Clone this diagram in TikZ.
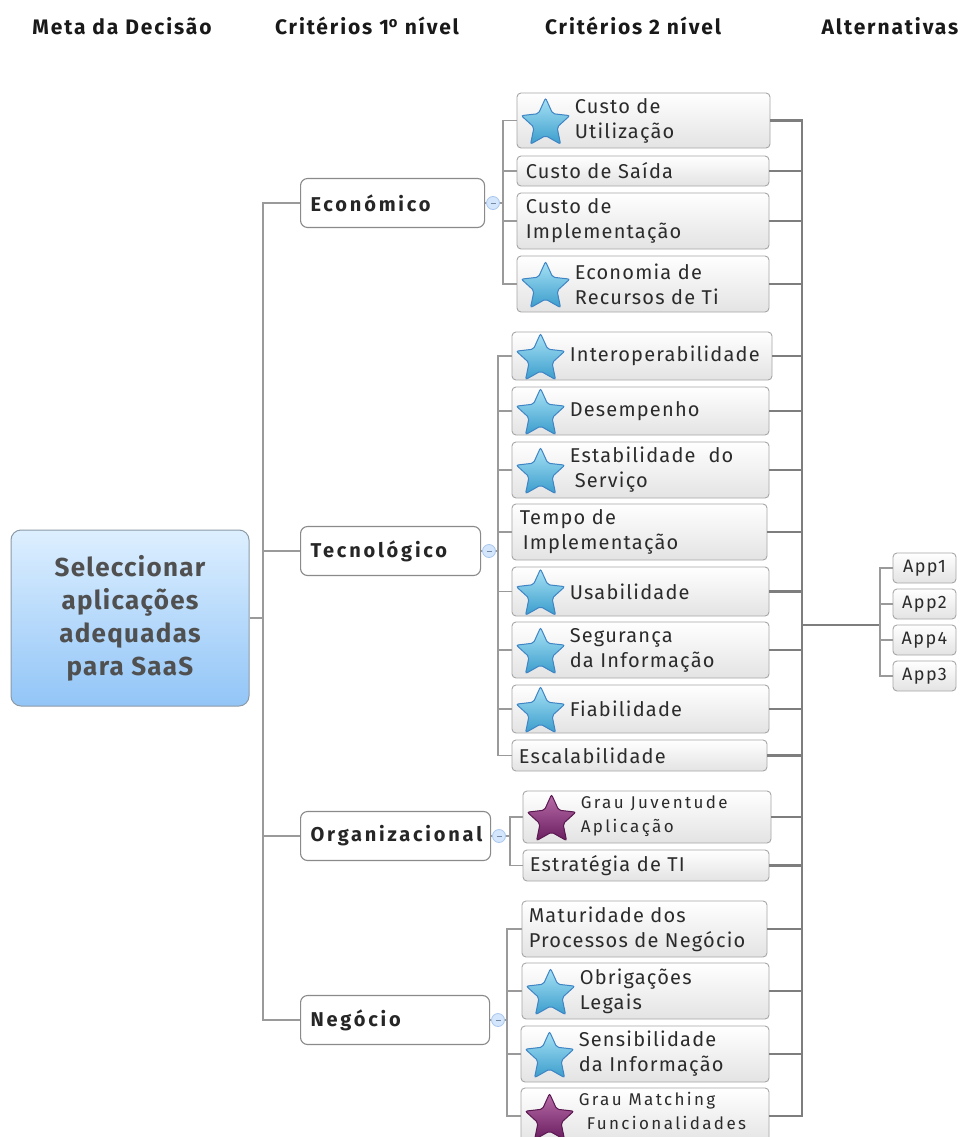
\documentclass[tikz,border=0pt]{standalone}
\usepackage{fontspec}
\setmainfont{Fira Sans}
\newfontfamily\critfont[LetterSpace=6]{Fira Sans}
\newfontfamily\smallcritfont[LetterSpace=14]{Fira Sans}
\newfontfamily\titlefont[LetterSpace=9]{Fira Sans}
\newfontfamily\groupfont[LetterSpace=14]{Fira Sans}
\newfontfamily\goalfont[LetterSpace=5]{Fira Sans}
\newfontfamily\appfont[LetterSpace=8]{Fira Sans}
\usetikzlibrary{shapes.geometric}

\definecolor{goaltop}{HTML}{DDEFFF}
\definecolor{goalbot}{HTML}{92C5F7}
\definecolor{goalline}{HTML}{8C9AA8}
\definecolor{goaltext}{HTML}{505050}
\definecolor{grpline}{HTML}{8A8A8A}
\definecolor{critline}{HTML}{A6A6A6}
\definecolor{critbot}{HTML}{E3E3E3}
\definecolor{crittxt}{HTML}{2B2B2B}
\definecolor{treeline}{HTML}{9A9A9A}
\definecolor{busline}{HTML}{7E7E7E}
\definecolor{togfill}{HTML}{D4E6FB}
\definecolor{togline}{HTML}{A9C7EE}
\definecolor{startop}{HTML}{A8E2F5}
\definecolor{starbot}{HTML}{3A9DCC}
\definecolor{starline}{HTML}{3F84C4}
\definecolor{purtop}{HTML}{B86CA8}
\definecolor{purbot}{HTML}{6A1D5F}
\definecolor{purline}{HTML}{5A1850}

\tikzset{
  colhead/.style={font=\titlefont\bfseries\fontsize{21}{25}\selectfont, text=black!90, inner sep=0pt},
  goal/.style={draw=goalline, line width=1pt, rounded corners=10pt,
    top color=goaltop, bottom color=goalbot, minimum width=238pt, minimum height=176pt,
    align=center, text=goaltext, font=\goalfont\bfseries\fontsize{26}{33}\selectfont},
  group/.style={draw=grpline, line width=1.1pt, rounded corners=7pt, fill=white,
    minimum height=49pt, inner xsep=10pt, anchor=west, align=left, text=black!85,
    font=\groupfont\bfseries\fontsize{20}{24}\selectfont},
  critbox/.style={draw=critline, line width=0.9pt, rounded corners=4pt,
    top color=white, bottom color=critbot, inner sep=0pt},
  crittext/.style={anchor=west, align=left, inner sep=0pt, text=crittxt,
    font=\critfont\fontsize{20}{25}\selectfont},
  smalltext/.style={crittext, font=\smallcritfont\fontsize{17}{24}\selectfont},
  appbox/.style={critbox, minimum width=63pt, minimum height=30pt,
    text=crittxt, font=\appfont\fontsize{18}{20}\selectfont},
  bluestar/.style={star, star points=5, star point ratio=2.1, minimum size=51pt,
    inner sep=0pt, rounded corners=2pt, draw=starline, line width=1pt,
    top color=startop, bottom color=starbot},
  purplestar/.style={bluestar, draw=purline, top color=purtop, bottom color=purbot},
  toggle/.style={circle, draw=togline, fill=togfill, minimum size=13pt, inner sep=0pt,
    line width=0.8pt,
    path picture={\draw[togline!70!black, line width=0.7pt]
      ([xshift=-2.5pt]path picture bounding box.center) --
      ([xshift=2.5pt]path picture bounding box.center);}},
  tree/.style={draw=treeline, line width=1.3pt},
  bus/.style={draw=busline, line width=2.5pt},
}

% criteria box given by its left, top, right and bottom edges
\newcommand\critnode[5]{%
  \pgfmathsetmacro\critW{#4-#2}%
  \pgfmathsetmacro\critH{#5-#3}%
  \node[critbox, minimum width=\critW pt, minimum height=\critH pt]
    (#1) at ({(#2+#4)/2},{(#3+#5)/2}) {};%
}

\begin{document}
\begin{tikzpicture}[x=1pt, y=-1pt]
\clip (0,0) rectangle (961,1137);
\fill[white] (0,0) rectangle (961,1137);

% column titles
\node[colhead] (h1) at (122,26) {Meta da Decisão};
\node[colhead] (h2) at (367,26) {Critérios 1\textsuperscript{o} nível};
\node[colhead] (h3) at (633,26) {Critérios 2 nível};
\node[colhead] (h4) at (890,26) {Alternativas};

% decision goal
\node[goal] (goal) at (130,618) {Seleccionar\\aplicações\\adequadas\\para SaaS};
\coordinate (trunk) at (263,618);

% first-level criteria
\node[group, text width=164pt] (eco) at (300,203) {Económico};
\node[group, text width=160pt] (tec) at (300,551) {Tecnológico};
\node[group, text width=170pt] (org) at (300,836) {Organizacional};
\node[group, text width=169pt] (neg) at (300,1020) {Negócio};

\node[toggle] (ecotog) at (493,203) {};
\node[toggle] (tectog) at (489,551) {};
\node[toggle] (orgtog) at (499,836) {};
\node[toggle] (negtog) at (498,1020) {};

\coordinate (ecobr) at (503,203);
\coordinate (tecbr) at (498,551);
\coordinate (orgbr) at (510,836);
\coordinate (negbr) at (507,1020);

% second-level criteria: Económico
\critnode{eco1}{517}{93}{770}{148}
\critnode{eco2}{517}{156}{769}{186}
\critnode{eco3}{517}{193}{769}{249}
\critnode{eco4}{517}{256}{769}{312}
\node[bluestar] (eco1s) at ([xshift=29pt,yshift=-3pt]eco1.west) {};
\node[crittext] (eco1t) at ([xshift=58pt]eco1.west) {Custo de\\Utilização};
\node[crittext] (eco2t) at ([xshift=9pt]eco2.west) {Custo de Saída};
\node[crittext] (eco3t) at ([xshift=9pt]eco3.west) {Custo de\\Implementação};
\node[bluestar] (eco4s) at ([xshift=29pt,yshift=-3pt]eco4.west) {};
\node[crittext] (eco4t) at ([xshift=58pt]eco4.west) {Economia de\\Recursos de Ti};

% second-level criteria: Tecnológico
\critnode{tec1}{512}{332}{772}{380}
\critnode{tec2}{512}{387}{769}{435}
\critnode{tec3}{512}{442}{769}{498}
\critnode{tec4}{512}{504}{767}{560}
\critnode{tec5}{512}{567}{769}{616}
\critnode{tec6}{512}{622}{769}{678}
\critnode{tec7}{512}{685}{769}{733}
\critnode{tec8}{512}{740}{767}{771}
\node[bluestar] (tec1s) at ([xshift=29pt,yshift=-3pt]tec1.west) {};
\node[crittext] (tec1t) at ([xshift=58pt]tec1.west) {Interoperabilidade};
\node[bluestar] (tec2s) at ([xshift=29pt,yshift=-3pt]tec2.west) {};
\node[crittext] (tec2t) at ([xshift=58pt]tec2.west) {Desempenho};
\node[bluestar] (tec3s) at ([xshift=29pt,yshift=-3pt]tec3.west) {};
\node[crittext] (tec3t) at ([xshift=58pt]tec3.west) {Estabilidade\ \ do\\\hspace*{5pt}Serviço};
\node[crittext] (tec4t) at ([xshift=8pt]tec4.west) {Tempo de\\\hspace*{3pt}Implementação};
\node[bluestar] (tec5s) at ([xshift=29pt,yshift=-3pt]tec5.west) {};
\node[crittext] (tec5t) at ([xshift=58pt]tec5.west) {Usabilidade};
\node[bluestar] (tec6s) at ([xshift=29pt,yshift=-3pt]tec6.west) {};
\node[crittext] (tec6t) at ([xshift=58pt]tec6.west) {Segurança\\da Informação};
\node[bluestar] (tec7s) at ([xshift=29pt,yshift=-3pt]tec7.west) {};
\node[crittext] (tec7t) at ([xshift=58pt]tec7.west) {Fiabilidade};
\node[crittext] (tec8t) at ([xshift=7pt]tec8.west) {Escalabilidade};

% second-level criteria: Organizacional
\critnode{org1}{523}{791}{771}{843}
\critnode{org2}{523}{850}{769}{881}
\node[purplestar] (org1s) at ([xshift=29pt,yshift=-3pt]org1.west) {};
\node[smalltext] (org1t) at ([xshift=58pt,yshift=1pt]org1.west) {Grau Juventude\\Aplicação};
\node[crittext] (org2t) at ([xshift=7pt]org2.west) {Estratégia de TI};

% second-level criteria: Negócio
\critnode{neg1}{522}{901}{767}{957}
\critnode{neg2}{522}{963}{769}{1019}
\critnode{neg3}{521}{1026}{769}{1082}
\critnode{neg4}{521}{1088}{769}{1144}
\node[crittext] (neg1t) at ([xshift=7pt]neg1.west) {Maturidade dos\\Processos de Negócio};
\node[bluestar] (neg2s) at ([xshift=29pt,yshift=-3pt]neg2.west) {};
\node[crittext] (neg2t) at ([xshift=58pt]neg2.west) {Obrigações\\Legais};
\node[bluestar] (neg3s) at ([xshift=29pt,yshift=-3pt]neg3.west) {};
\node[crittext] (neg3t) at ([xshift=58pt]neg3.west) {Sensibilidade\\da Informação};
\node[purplestar] (neg4s) at ([xshift=29pt,yshift=-3pt]neg4.west) {};
\node[smalltext] (neg4t) at ([xshift=58pt,yshift=5pt]neg4.west) {Grau Matching\\\hspace*{8pt}Funcionalidades};

% alternatives
\coordinate (bus) at (802,625);
\coordinate (appbr) at (880,625);
\node[appbox] (app1) at (924.5,568) {App1};
\node[appbox] (app2) at (924.5,604) {App2};
\node[appbox] (app4) at (924.5,640) {App4};
\node[appbox] (app3) at (924.5,676) {App3};

% goal to first-level criteria
\draw[tree] (goal.east) -- (trunk);
\foreach \g in {eco,tec,org,neg} \draw[tree] (\g.west) -| (trunk);

% first-level to second-level criteria
\foreach \g in {eco,tec,org,neg} {
  \draw[tree] (\g.east) -- (\g tog);
  \draw[tree] (\g tog) -- (\g br);
}
\foreach \c in {eco1,eco2,eco3,eco4} \draw[tree] (\c.west) -| (ecobr);
\foreach \c in {tec1,tec2,tec3,tec4,tec5,tec6,tec7,tec8} \draw[tree] (\c.west) -| (tecbr);
\foreach \c in {org1,org2} \draw[tree] (\c.west) -| (orgbr);
\foreach \c in {neg1,neg2,neg3,neg4} \draw[tree] (\c.west) -| (negbr);

% every second-level criterion feeds the alternatives
\foreach \c in {eco1,eco2,eco3,eco4,tec1,tec2,tec3,tec4,tec5,tec6,tec7,tec8,org1,org2,neg1,neg2,neg3,neg4}
  \draw[bus] (\c.east) -| (bus);
\draw[bus] (bus) -- (appbr);
\foreach \a in {app1,app2,app4,app3} \draw[tree] (\a.west) -| (appbr);

\end{tikzpicture}
\end{document}
